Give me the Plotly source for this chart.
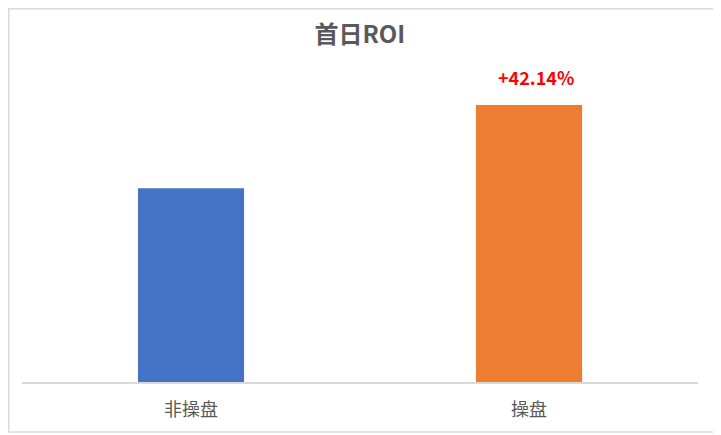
import plotly.graph_objects as go

categories = ["非操盘", "操盘"]
roi_values = [29.47, 42.14]
bar_colors = ["#4472C4", "#ED7D31"]
highlight_label = "+42.14%"

# page has an 8px body margin, so the figure is sized to fit the window
W, H = 712, 427
ML, MR, MT, MB = 14, 22, 52, 53
PW, PH = W - ML - MR, H - MT - MB

font_family = "Noto Sans CJK SC, Microsoft YaHei, sans-serif"


def px_x(px):
    return (px - ML) / PW


def px_y(py):
    return (H - MB - py) / PH


fig = go.Figure()
fig.add_trace(
    go.Bar(
        x=categories,
        y=roi_values,
        marker=dict(color=bar_colors, line=dict(width=0)),
        hoverinfo="x+y",
    )
)

fig.add_annotation(
    x=categories[1],
    y=roi_values[1],
    text=f"<b>{highlight_label}</b>",
    showarrow=False,
    yanchor="bottom",
    yshift=13,
    xshift=7,
    font=dict(color="#FF0000", size=18, family=font_family),
)

# light outer frame around the chart
fig.add_shape(
    type="rect",
    xref="paper",
    yref="paper",
    x0=px_x(0.75),
    x1=px_x(711),
    y0=px_y(424),
    y1=px_y(0.75),
    line=dict(color="#D9D9D9", width=1.5),
    layer="below",
)

fig.update_layout(
    width=W,
    height=H,
    margin=dict(l=ML, r=MR, t=MT, b=MB),
    paper_bgcolor="white",
    plot_bgcolor="white",
    bargap=0.686,
    showlegend=False,
    title=dict(
        text="<b>首日ROI</b>",
        x=px_x(348),
        xanchor="center",
        y=1 - 27 / H,
        yanchor="middle",
        font=dict(size=24, color="#595959", family=font_family),
    ),
    font=dict(family=font_family, color="#595959"),
    xaxis=dict(
        showline=True,
        linecolor="#D9D9D9",
        linewidth=2,
        showgrid=False,
        ticks="",
        ticklabelstandoff=10,
        tickfont=dict(size=18, color="#595959"),
    ),
    yaxis=dict(
        range=[0, 42.14 * PH / 277],
        visible=False,
        showgrid=False,
        zeroline=False,
    ),
)

fig.write_html("out.html")
